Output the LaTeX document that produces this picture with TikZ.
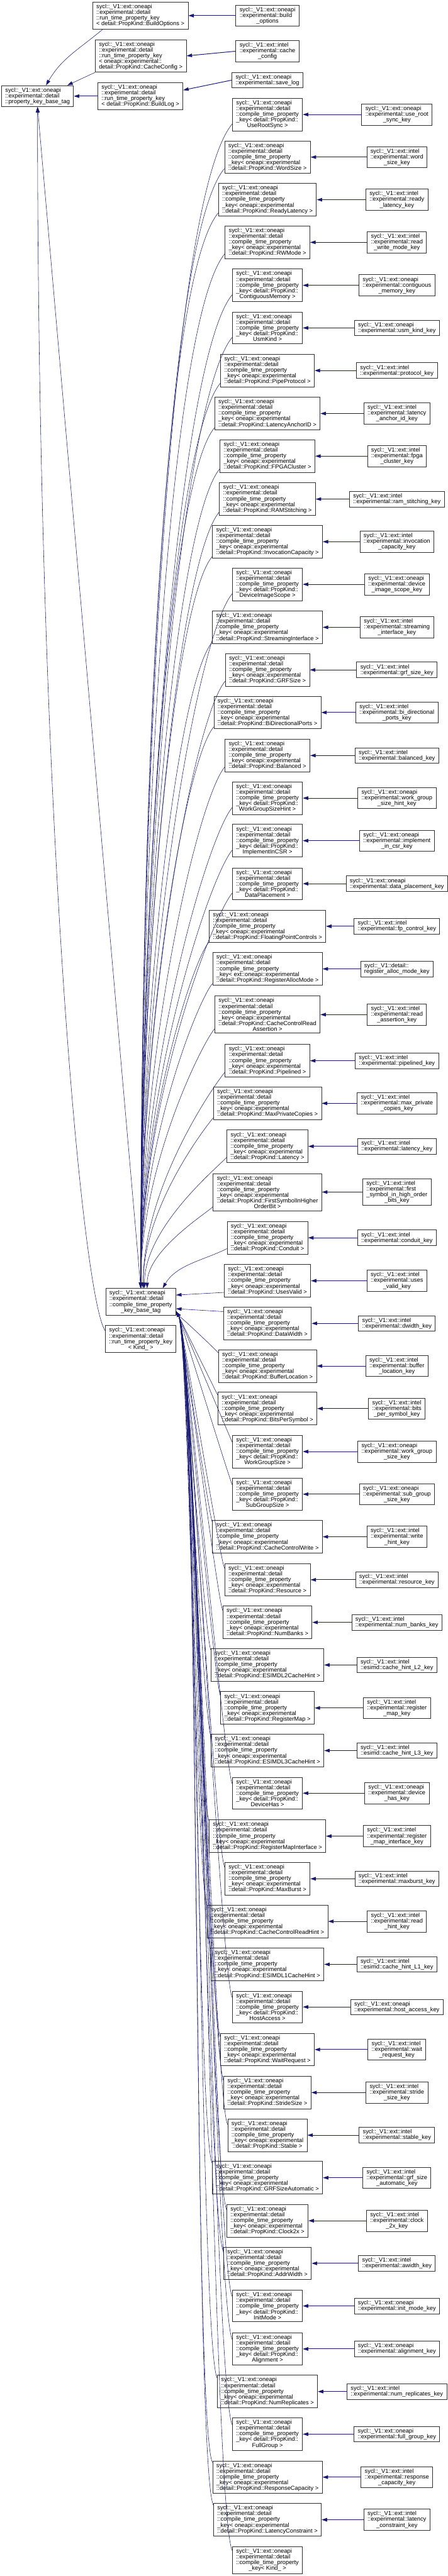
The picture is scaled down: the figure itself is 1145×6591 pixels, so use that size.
\documentclass[tikz,border=0pt]{standalone}
\usepackage{fontspec}
\usepackage{tikz}
\usetikzlibrary{arrows.meta,calc}
\newfontfamily\dxfont{Liberation Sans}
\definecolor{dxBlue}{HTML}{191970}
\definecolor{dxFrame}{HTML}{303030}
\newcommand{\lc}[1]{\hfil#1}
\newcommand{\onea}{sycl::\_V1::ext::oneapi}
\newcommand{\intel}{sycl::\_V1::ext::intel}
\newcommand{\ctpre}{\onea\\::experimental::detail\\::compile\_time\_property\\}
\newcommand{\ctone}[1]{\ctpre\_key< oneapi::experimental\\\lc{::detail::PropKind::#1 >}}
\newcommand{\ctdet}[1]{\ctpre\_key< detail::PropKind::\\\lc{#1 >}}
\newcommand{\rtpre}{\onea\\::experimental::detail\\::run\_time\_property\_key\\}

\begin{document}
\begin{tikzpicture}[x=1pt,y=1pt,
  cls/.style={draw=dxFrame,line width=1.3pt,fill=white,inner xsep=9.5pt,inner ysep=5.5pt,align=left,
    font={\dxfont\fontsize{15}{14.6}\selectfont}},
  inh/.style={dxBlue,line width=0.9pt,-{Triangle[length=14pt,width=9pt]}},
  hinh/.style={inh,line width=1.6pt}]
\useasboundingbox (0,0) rectangle (1145,-6591);
% base classes
\node[cls] (base) at (96,-246) {\onea\\::experimental::detail\\\lc{::property\_key\_base\_tag}};
\node[cls] (rtopt) at (359,-40) {\rtpre\lc{< detail::PropKind::BuildOptions >}};
\node[cls] (rtcc) at (360,-143) {\rtpre< oneapi::experimental::\\\lc{detail::PropKind::CacheConfig >}};
\node[cls] (rtlog) at (359,-246) {\rtpre\lc{< detail::PropKind::BuildLog >}};
\node[cls] (ctb) at (360,-3331) {\ctpre\lc{\_key\_base\_tag}};
\node[cls] (rtk) at (360,-3426) {\rtpre\lc{< Kind\_ >}};
% run time keys
\node[cls] (kopt) at (684,-40) {\onea\\::experimental::build\\\lc{\_options}};
\node[cls] (kcc) at (684,-131) {\intel\\::experimental::cache\\\lc{\_config}};
\node[cls] (klog) at (684,-205) {\onea\\\lc{::experimental::save\_log}};
% compile time property keys
\node[cls] (c1) at (684,-293) {\ctdet{UseRootSync}};
\node[cls] (c2) at (684,-402) {\ctone{WordSize}};
\node[cls] (c3) at (684,-511) {\ctone{ReadyLatency}};
\node[cls] (c4) at (684,-620) {\ctone{RWMode}};
\node[cls] (c5) at (684,-730) {\ctdet{ContiguousMemory}};
\node[cls] (c6) at (684,-839) {\ctdet{UsmKind}};
\node[cls] (c7) at (684,-948) {\ctone{PipeProtocol}};
\node[cls] (c8) at (684,-1058) {\ctone{LatencyAnchorID}};
\node[cls] (c9) at (684,-1167) {\ctone{FPGACluster}};
\node[cls] (c10) at (684,-1277) {\ctone{RAMStitching}};
\node[cls] (c11) at (684,-1386) {\ctone{InvocationCapacity}};
\node[cls] (c12) at (684,-1495) {\ctdet{DeviceImageScope}};
\node[cls] (c13) at (684,-1605) {\ctone{StreamingInterface}};
\node[cls] (c14) at (684,-1714) {\ctone{GRFSize}};
\node[cls] (c15) at (684,-1823) {\ctone{BiDirectionalPorts}};
\node[cls] (c16) at (684,-1933) {\ctone{Balanced}};
\node[cls] (c17) at (684,-2042) {\ctdet{WorkGroupSizeHint}};
\node[cls] (c18) at (684,-2151) {\ctdet{ImplementInCSR}};
\node[cls] (c19) at (684,-2261) {\ctdet{DataPlacement}};
\node[cls] (c20) at (684,-2370) {\ctone{FloatingPointControls}};
\node[cls] (c21) at (684,-2479) {\ctpre\_key< ext::oneapi::experimental\\\lc{::detail::PropKind::RegisterAllocMode >}};
\node[cls] (c22) at (684,-2596) {\ctpre\_key< oneapi::experimental\\::detail::PropKind::CacheControlRead\\\lc{Assertion >}};
\node[cls] (c23) at (684,-2714) {\ctone{Pipelined}};
\node[cls] (c24) at (684,-2823) {\ctone{MaxPrivateCopies}};
\node[cls] (c25) at (684,-2933) {\ctone{Latency}};
\node[cls] (c26) at (684,-3050) {\ctpre\_key< oneapi::experimental\\::detail::PropKind::FirstSymbolInHigher\\\lc{OrderBit >}};
\node[cls] (c27) at (684,-3167) {\ctone{Conduit}};
\node[cls] (c28) at (684,-3277) {\ctone{UsesValid}};
\node[cls] (c29) at (684,-3386) {\ctone{DataWidth}};
\node[cls] (c30) at (684,-3495) {\ctone{BufferLocation}};
\node[cls] (c31) at (684,-3604) {\ctone{BitsPerSymbol}};
\node[cls] (c32) at (684,-3714) {\ctdet{WorkGroupSize}};
\node[cls] (c33) at (684,-3823) {\ctdet{SubGroupSize}};
\node[cls] (c34) at (684,-3932) {\ctone{CacheControlWrite}};
\node[cls] (c35) at (684,-4042) {\ctone{Resource}};
\node[cls] (c36) at (684,-4151) {\ctone{NumBanks}};
\node[cls] (c37) at (684,-4260) {\ctone{ESIMDL2CacheHint}};
\node[cls] (c38) at (684,-4370) {\ctone{RegisterMap}};
\node[cls] (c39) at (684,-4479) {\ctone{ESIMDL3CacheHint}};
\node[cls] (c40) at (684,-4588) {\ctdet{DeviceHas}};
\node[cls] (c41) at (684,-4698) {\ctone{RegisterMapInterface}};
\node[cls] (c42) at (684,-4807) {\ctone{MaxBurst}};
\node[cls] (c43) at (684,-4916) {\ctone{CacheControlReadHint}};
\node[cls] (c44) at (684,-5026) {\ctone{ESIMDL1CacheHint}};
\node[cls] (c45) at (684,-5135) {\ctdet{HostAccess}};
\node[cls] (c46) at (684,-5244) {\ctone{WaitRequest}};
\node[cls] (c47) at (684,-5354) {\ctone{StrideSize}};
\node[cls] (c48) at (684,-5463) {\ctone{Stable}};
\node[cls] (c49) at (684,-5572) {\ctone{GRFSizeAutomatic}};
\node[cls] (c50) at (684,-5682) {\ctone{Clock2x}};
\node[cls] (c51) at (684,-5791) {\ctone{AddrWidth}};
\node[cls] (c52) at (684,-5900) {\ctdet{InitMode}};
\node[cls] (c53) at (684,-6010) {\ctdet{Alignment}};
\node[cls] (c54) at (684,-6119) {\ctone{NumReplicates}};
\node[cls] (c55) at (684,-6228) {\ctdet{FullGroup}};
\node[cls] (c56) at (684,-6338) {\ctone{ResponseCapacity}};
\node[cls] (c57) at (684,-6447) {\ctone{LatencyConstraint}};
\node[cls] (c58) at (684,-6550) {\ctpre\lc{\_key< Kind\_ >}};
% property keys
\node[cls] (k1) at (1015,-293) {\onea\\::experimental::use\_root\\\lc{\_sync\_key}};
\node[cls] (k2) at (1015,-402) {\intel\\::experimental::word\\\lc{\_size\_key}};
\node[cls] (k3) at (1015,-511) {\intel\\::experimental::ready\\\lc{\_latency\_key}};
\node[cls] (k4) at (1015,-620) {\intel\\::experimental::read\\\lc{\_write\_mode\_key}};
\node[cls] (k5) at (1015,-730) {\onea\\::experimental::contiguous\\\lc{\_memory\_key}};
\node[cls] (k6) at (1015,-839) {\onea\\\lc{::experimental::usm\_kind\_key}};
\node[cls] (k7) at (1015,-948) {\intel\\\lc{::experimental::protocol\_key}};
\node[cls] (k8) at (1015,-1058) {\intel\\::experimental::latency\\\lc{\_anchor\_id\_key}};
\node[cls] (k9) at (1015,-1167) {\intel\\::experimental::fpga\\\lc{\_cluster\_key}};
\node[cls] (k10) at (1015,-1277) {\intel\\\lc{::experimental::ram\_stitching\_key}};
\node[cls] (k11) at (1015,-1386) {\intel\\::experimental::invocation\\\lc{\_capacity\_key}};
\node[cls] (k12) at (1015,-1495) {\onea\\::experimental::device\\\lc{\_image\_scope\_key}};
\node[cls] (k13) at (1015,-1605) {\intel\\::experimental::streaming\\\lc{\_interface\_key}};
\node[cls] (k14) at (1015,-1714) {\intel\\\lc{::experimental::grf\_size\_key}};
\node[cls] (k15) at (1015,-1823) {\intel\\::experimental::bi\_directional\\\lc{\_ports\_key}};
\node[cls] (k16) at (1015,-1933) {\intel\\\lc{::experimental::balanced\_key}};
\node[cls] (k17) at (1015,-2042) {\onea\\::experimental::work\_group\\\lc{\_size\_hint\_key}};
\node[cls] (k18) at (1015,-2151) {\onea\\::experimental::implement\\\lc{\_in\_csr\_key}};
\node[cls] (k19) at (1015,-2261) {\onea\\\lc{::experimental::data\_placement\_key}};
\node[cls] (k20) at (1015,-2370) {\intel\\\lc{::experimental::fp\_control\_key}};
\node[cls] (k21) at (1015,-2479) {sycl::\_V1::detail::\\\lc{register\_alloc\_mode\_key}};
\node[cls] (k22) at (1015,-2596) {\intel\\::experimental::read\\\lc{\_assertion\_key}};
\node[cls] (k23) at (1015,-2714) {\intel\\\lc{::experimental::pipelined\_key}};
\node[cls] (k24) at (1015,-2823) {\intel\\::experimental::max\_private\\\lc{\_copies\_key}};
\node[cls] (k25) at (1015,-2933) {\intel\\\lc{::experimental::latency\_key}};
\node[cls] (k26) at (1015,-3050) {\intel\\::experimental::first\\\_symbol\_in\_high\_order\\\lc{\_bits\_key}};
\node[cls] (k27) at (1015,-3167) {\intel\\\lc{::experimental::conduit\_key}};
\node[cls] (k28) at (1015,-3277) {\intel\\::experimental::uses\\\lc{\_valid\_key}};
\node[cls] (k29) at (1015,-3386) {\intel\\\lc{::experimental::dwidth\_key}};
\node[cls] (k30) at (1015,-3495) {\intel\\::experimental::buffer\\\lc{\_location\_key}};
\node[cls] (k31) at (1015,-3604) {\intel\\::experimental::bits\\\lc{\_per\_symbol\_key}};
\node[cls] (k32) at (1015,-3714) {\onea\\::experimental::work\_group\\\lc{\_size\_key}};
\node[cls] (k33) at (1015,-3823) {\onea\\::experimental::sub\_group\\\lc{\_size\_key}};
\node[cls] (k34) at (1015,-3932) {\intel\\::experimental::write\\\lc{\_hint\_key}};
\node[cls] (k35) at (1015,-4042) {\intel\\\lc{::experimental::resource\_key}};
\node[cls] (k36) at (1015,-4151) {\intel\\\lc{::experimental::num\_banks\_key}};
\node[cls] (k37) at (1015,-4260) {\intel\\\lc{::esimd::cache\_hint\_L2\_key}};
\node[cls] (k38) at (1015,-4370) {\intel\\::experimental::register\\\lc{\_map\_key}};
\node[cls] (k39) at (1015,-4479) {\intel\\\lc{::esimd::cache\_hint\_L3\_key}};
\node[cls] (k40) at (1015,-4588) {\onea\\::experimental::device\\\lc{\_has\_key}};
\node[cls] (k41) at (1015,-4698) {\intel\\::experimental::register\\\lc{\_map\_interface\_key}};
\node[cls] (k42) at (1015,-4807) {\intel\\\lc{::experimental::maxburst\_key}};
\node[cls] (k43) at (1015,-4916) {\intel\\::experimental::read\\\lc{\_hint\_key}};
\node[cls] (k44) at (1015,-5026) {\intel\\\lc{::esimd::cache\_hint\_L1\_key}};
\node[cls] (k45) at (1015,-5135) {\onea\\\lc{::experimental::host\_access\_key}};
\node[cls] (k46) at (1015,-5244) {\intel\\::experimental::wait\\\lc{\_request\_key}};
\node[cls] (k47) at (1015,-5354) {\intel\\::experimental::stride\\\lc{\_size\_key}};
\node[cls] (k48) at (1015,-5463) {\intel\\\lc{::experimental::stable\_key}};
\node[cls] (k49) at (1015,-5572) {\intel\\::experimental::grf\_size\\\lc{\_automatic\_key}};
\node[cls] (k50) at (1015,-5682) {\intel\\::experimental::clock\\\lc{\_2x\_key}};
\node[cls] (k51) at (1015,-5791) {\intel\\\lc{::experimental::awidth\_key}};
\node[cls] (k52) at (1015,-5900) {\onea\\\lc{::experimental::init\_mode\_key}};
\node[cls] (k53) at (1015,-6010) {\onea\\\lc{::experimental::alignment\_key}};
\node[cls] (k54) at (1015,-6119) {\intel\\\lc{::experimental::num\_replicates\_key}};
\node[cls] (k55) at (1015,-6228) {\onea\\\lc{::experimental::full\_group\_key}};
\node[cls] (k56) at (1015,-6338) {\intel\\::experimental::response\\\lc{\_capacity\_key}};
\node[cls] (k57) at (1015,-6447) {\intel\\::experimental::latency\\\lc{\_constraint\_key}};
% inheritance edges
\draw[inh] (rtopt.-160) to[out=220,in=60] (base.52);
\draw[inh] (rtcc.south west) -- (base.20);
\draw[hinh] (rtlog.west) -- (base.east);
\draw[inh] (ctb.north) -- (base.south);
\draw[inh] (rtk.167) .. controls +(-60,90) and +(0,-1800) .. (base.south);
\draw[hinh] (kopt.west) -- (rtopt.east);
\draw[hinh] (kcc.west) -- (rtcc.east);
\draw[hinh] (klog.west) -- (rtlog.8);
\foreach \i in {1,...,57}
  \draw[hinh] (k\i.west) -- (c\i.east);
\foreach \i/\a in {1/90,2/90,3/90,4/90,5/90,6/90,7/90,8/90,9/90,10/90,11/90,12/90,13/90,
    14/90,15/90,16/90,17/90,18/90,19/90,20/90,21/90,22/90,23/80,24/80,25/75,26/65}
  \draw[inh] let \p1=(c\i.195), \p2=(ctb.\a), \n1={\y1-\y2} in
    (\p1) .. controls +(-0.051*\n1,-0.061*\n1) and +(0,0.47*\n1) .. (\p2);
\draw[inh] (c27.195) .. controls +(-60,-30) and +(35,60) .. (ctb.32);
\draw[inh] (c28.195) -- (ctb.11);
\draw[inh] (c29.165) -- (ctb.-11);
\foreach \i in {30,...,58}
  \draw[inh] let \p1=(c\i.165), \p2=(ctb.-15), \n1={\y2-\y1} in
    (\p1) .. controls +(-0.017*\n1,0.036*\n1) and +(0.02*\n1,-0.035*\n1) .. (\p2);
\end{tikzpicture}
\end{document}
